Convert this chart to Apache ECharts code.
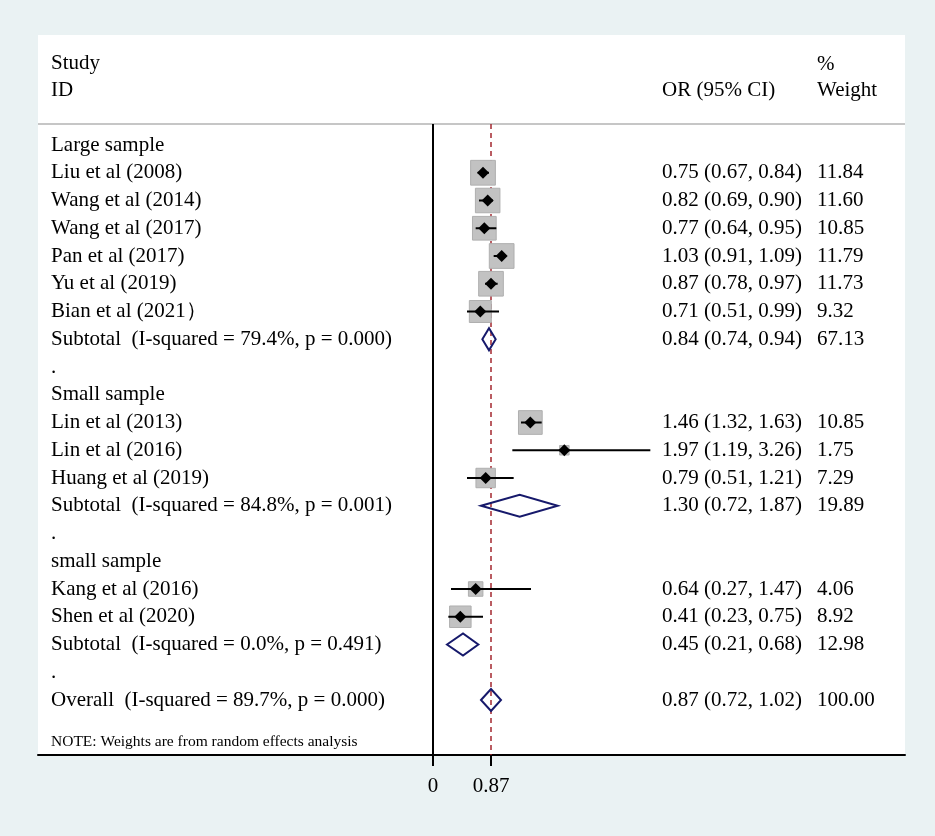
<!DOCTYPE html>
<html>
<head>
<meta charset="utf-8">
<script src="https://cdn.jsdelivr.net/npm/echarts@6/dist/echarts.min.js"></script>
<style>
  html, body { margin: 0; padding: 0; background: #eaf2f3; }
  #chart { width: 935px; height: 836px; }
</style>
</head>
<body>
<div id="chart"></div>
<script>
// rows, top to bottom
const labels = [
  "Large sample",
  "Liu et al (2008)",
  "Wang et al (2014)",
  "Wang et al (2017)",
  "Pan et al (2017)",
  "Yu et al (2019)",
  "Bian et al (2021\uFF09",
  "Subtotal  (I-squared = 79.4%, p = 0.000)",
  ".",
  "Small sample",
  "Lin et al (2013)",
  "Lin et al (2016)",
  "Huang et al (2019)",
  "Subtotal  (I-squared = 84.8%, p = 0.001)",
  ".",
  "small sample",
  "Kang et al (2016)",
  "Shen et al (2020)",
  "Subtotal  (I-squared = 0.0%, p = 0.491)",
  ".",
  "Overall  (I-squared = 89.7%, p = 0.000)",
];
const kinds = [
  "group", "study", "study", "study", "study", "study", "study", "subtotal", "gap",
  "group", "study", "study", "study", "subtotal", "gap",
  "group", "study", "study", "subtotal", "gap",
  "overall",
];
const oddsRatio = [null, 0.75, 0.82, 0.77, 1.03, 0.87, 0.71, 0.84, null,
  null, 1.46, 1.97, 0.79, 1.30, null, null, 0.64, 0.41, 0.45, null, 0.87];
const ciLow = [null, 0.67, 0.69, 0.64, 0.91, 0.78, 0.51, 0.74, null,
  null, 1.32, 1.19, 0.51, 0.72, null, null, 0.27, 0.23, 0.21, null, 0.72];
const ciHigh = [null, 0.84, 0.90, 0.95, 1.09, 0.97, 0.99, 0.94, null,
  null, 1.63, 3.26, 1.21, 1.87, null, null, 1.47, 0.75, 0.68, null, 1.02];
const weights = [null, 11.84, 11.60, 10.85, 11.79, 11.73, 9.32, 67.13, null,
  null, 10.85, 1.75, 7.29, 19.89, null, null, 4.06, 8.92, 12.98, null, 100.00];
const xTicks = [0, 0.87];
const overallOr = 0.87;
const noteText = "NOTE: Weights are from random effects analysis";

// layout (page pixels)
const panel = { left: 38, right: 905, top: 35, bottom: 755 };
const zeroX = 433;
const pxPerUnit = 58 / 0.87;
const row0Y = 145, rowH = 27.75;
const rowAt = (y) => (y - row0Y) / rowH;
const xMin = (panel.left - zeroX) / pxPerUnit;
const xMax = (panel.right - zeroX) / pxPerUnit;
const yMin = rowAt(panel.top);
const yMax = rowAt(panel.bottom);
const sepRow = rowAt(124);
const col = { label: 51, or: 662, weight: 817 };
const font = '"Liberation Serif", "Times New Roman", serif';

const texts = [
  { x: col.label, row: rowAt(63), text: "Study" },
  { x: col.label, row: rowAt(90), text: "ID" },
  { x: col.or, row: rowAt(90), text: "OR (95% CI)" },
  { x: col.weight, row: rowAt(64), text: "%" },
  { x: col.weight, row: rowAt(90), text: "Weight" },
  { x: col.label, row: rowAt(742), text: noteText, size: 15.5 },
];
labels.forEach((t, r) => {
  texts.push({ x: col.label, row: r, text: t });
  if (oddsRatio[r] != null) {
    texts.push({ x: col.or, row: r,
      text: `${oddsRatio[r].toFixed(2)} (${ciLow[r].toFixed(2)}, ${ciHigh[r].toFixed(2)})` });
    texts.push({ x: col.weight, row: r, text: weights[r].toFixed(2) });
  }
});

const studyData = [];
const diamondData = [];
kinds.forEach((k, r) => {
  const item = [oddsRatio[r], r, ciLow[r], ciHigh[r], weights[r]];
  if (k === "study") studyData.push(item);
  if (k === "subtotal" || k === "overall") diamondData.push(item);
});

function renderStudy(params, api) {
  const c = api.coord([api.value(0), api.value(1)]);
  const lo = api.coord([api.value(2), api.value(1)]);
  const hi = api.coord([api.value(3), api.value(1)]);
  const side = 7.2 * Math.sqrt(api.value(4));
  return {
    type: "group",
    children: [
      { type: "rect", shape: { x: c[0] - side / 2, y: c[1] - side / 2, width: side, height: side },
        style: { fill: "#c2c2c2", stroke: "#afafaf", lineWidth: 1 } },
      { type: "line", shape: { x1: lo[0], y1: lo[1], x2: hi[0], y2: hi[1] },
        style: { stroke: "#000", lineWidth: 2 } },
      { type: "polygon",
        shape: { points: [[c[0] - 6, c[1]], [c[0], c[1] - 6], [c[0] + 6, c[1]], [c[0], c[1] + 6]] },
        style: { fill: "#000" } },
    ],
  };
}

function renderDiamond(params, api) {
  const c = api.coord([api.value(0), api.value(1)]);
  const lo = api.coord([api.value(2), api.value(1)]);
  const hi = api.coord([api.value(3), api.value(1)]);
  return {
    type: "polygon",
    shape: { points: [[lo[0], c[1]], [c[0], c[1] - 11], [hi[0], c[1]], [c[0], c[1] + 11]] },
    style: { fill: "none", stroke: "#16196b", lineWidth: 2 },
  };
}

function renderText(params, api) {
  const t = texts[params.dataIndex];
  const p = api.coord([api.value(0), api.value(1)]);
  return {
    type: "text",
    x: p[0], y: p[1],
    style: { text: t.text, fill: "#000", font: `${t.size || 21}px ${font}`,
      align: "left", verticalAlign: "middle" },
  };
}

function vline(x, color, width, dash) {
  return {
    type: "line", silent: true, symbol: "none", xAxisIndex: 0, yAxisIndex: 0,
    data: [[x, sepRow], [x, yMax]],
    lineStyle: { color, width, type: dash || "solid" },
    z: 2,
  };
}

const chart = echarts.init(document.getElementById("chart"));
chart.setOption({
  animation: false,
  backgroundColor: "#eaf2f3",
  grid: {
    left: panel.left, right: 935 - panel.right, top: panel.top, bottom: 836 - panel.bottom,
    show: true, backgroundColor: "#fff", borderWidth: 0,
  },
  xAxis: [
    {
      type: "value", min: xMin, max: xMax,
      axisLine: { show: true, onZero: false, lineStyle: { color: "#000", width: 2 } },
      axisTick: { show: true, customValues: xTicks, length: 11, lineStyle: { color: "#000", width: 2 } },
      axisLabel: { show: true, customValues: xTicks, margin: 21, color: "#000",
        fontFamily: font, fontSize: 21, formatter: (v) => (v === 0 ? "0" : v.toFixed(2)) },
      splitLine: { show: false },
    },
    { type: "value", min: panel.left, max: panel.right, show: false },
  ],
  yAxis: {
    type: "value", inverse: true, min: yMin, max: yMax, show: false,
  },
  series: [
    {
      type: "line", silent: true, symbol: "none",
      data: [[xMin, sepRow], [xMax, sepRow]],
      lineStyle: { color: "#c6c6c6", width: 2 }, z: 1,
    },
    vline(0, "#000", 2),
    vline(overallOr, "#a3262e", 1.5, [5, 4]),
    { type: "custom", renderItem: renderStudy, data: studyData, clip: false, z: 3 },
    { type: "custom", renderItem: renderDiamond, data: diamondData, clip: false, z: 4 },
    { type: "custom", xAxisIndex: 1, renderItem: renderText, silent: true, clip: false, z: 5,
      data: texts.map((t) => [t.x, t.row]) },
  ],
});
</script>
</body>
</html>
